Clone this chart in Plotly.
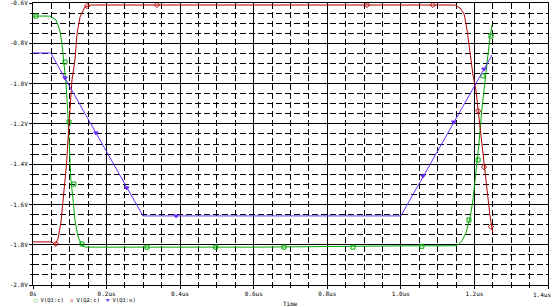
import plotly.graph_objects as go

# ---- data (time in microseconds, voltage in volts) ----
green_t = [0.0, 0.046, 0.0625, 0.073, 0.079, 0.084, 0.090, 0.095, 0.099, 0.103, 0.109, 0.114, 0.122, 0.133, 0.144,
           0.6, 1.0, 1.147, 1.155, 1.166, 1.177, 1.188, 1.196, 1.204, 1.212, 1.220, 1.229, 1.237, 1.242, 1.248]
green_v = [-0.665, -0.665, -0.684, -0.734, -0.808, -0.893, -1.007, -1.156, -1.330, -1.478, -1.578, -1.677, -1.756, -1.806, -1.812,
           -1.812, -1.806, -1.805, -1.801, -1.781, -1.742, -1.667, -1.578, -1.454, -1.305, -1.131, -0.982, -0.858, -0.774, -0.709]

red_t = [0.0, 0.052, 0.060, 0.068, 0.076, 0.084, 0.091, 0.095, 0.101, 0.106, 0.114, 0.120, 0.128, 0.141, 0.155,
         1.147, 1.161, 1.172, 1.180, 1.188, 1.196, 1.204, 1.210, 1.218, 1.226, 1.234, 1.242, 1.250]
red_v = [-1.786, -1.786, -1.801, -1.771, -1.687, -1.553, -1.404, -1.280, -1.106, -0.982, -0.883, -0.749, -0.669, -0.620, -0.610,
         -0.610, -0.625, -0.655, -0.734, -0.858, -0.957, -1.032, -1.131, -1.280, -1.404, -1.553, -1.652, -1.742]

blue_t = [0.0, 0.048, 0.299, 1.0, 1.248]
blue_v = [-0.848, -0.848, -1.657, -1.657, -0.858]

green_mk_t = [0.008, 0.087, 0.098, 0.111, 0.133, 0.310, 0.497, 0.682, 0.870, 1.057, 1.185, 1.210, 1.223, 1.245]
green_mk_v = [-0.665, -0.893, -1.191, -1.499, -1.796, -1.812, -1.812, -1.812, -1.812, -1.808, -1.677, -1.379, -0.962, -0.764]

red_mk_t = [0.0625, 0.147, 0.337, 0.908, 1.087, 1.210, 1.226, 1.245]
red_mk_v = [-1.796, -0.615, -0.610, -0.610, -0.610, -1.136, -1.414, -1.711]

blue_mk_t = [0.087, 0.171, 0.255, 0.389, 1.060, 1.144, 1.226]
blue_mk_v = [-0.972, -1.245, -1.518, -1.657, -1.459, -1.191, -0.928]

x_ticks = [0.0, 0.2, 0.4, 0.6, 0.8, 1.0, 1.2, 1.4]
x_labels = ["0s", "0.2us", "0.4us", "0.6us", "0.8us", "1.0us", "1.2us", "1.4us"]
y_ticks = [-2.0, -1.8, -1.6, -1.4, -1.2, -1.0, -0.8, -0.6]
y_labels = ["-2.0V", "-1.8V", "-1.6V", "-1.4V", "-1.2V", "-1.0V", "-0.8V", "-0.6V"]

names = ["V(Q1:c)", "V(Q2:c)", "V(Q1:e)"]
legend_glyphs = ["□", "◇", "▼"]

GREEN = "#00a800"
RED = "#b00000"
BLUE = "#6a2cff"
FONT = "DejaVu Sans Mono"

fig = go.Figure()
series = [
    (green_t, green_v, green_mk_t, green_mk_v, GREEN, "square-open", names[0]),
    (red_t, red_v, red_mk_t, red_mk_v, RED, "diamond-open", names[1]),
    (blue_t, blue_v, blue_mk_t, blue_mk_v, BLUE, "triangle-down", names[2]),
]
for t, v, mt, mv, col, sym, nm in series:
    fig.add_trace(go.Scatter(x=t, y=v, mode="lines", line=dict(color=col, width=1),
                             showlegend=False, hoverinfo="skip", name=nm))
    fig.add_trace(go.Scatter(x=mt, y=mv, mode="markers", name=nm, showlegend=False,
                             marker=dict(symbol=sym, size=4, color=col, line=dict(color=col, width=1))))

axis_common = dict(
    showline=True, linecolor="black", linewidth=1, mirror=True,
    showgrid=True, gridcolor="black", gridwidth=1,
    ticks="outside", ticklen=3, tickcolor="black", zeroline=False,
    ticklabeloverflow="allow", automargin=False,
    tickfont=dict(family=FONT, size=6, color="black"),
)

# last x label drawn as annotation so it stays inside the page
x_ticktext = x_labels[:-1] + [""]
fig.update_xaxes(range=[0, 1.4], tickmode="array", tickvals=x_ticks, ticktext=x_ticktext,
                 minor=dict(dtick=0.05, tick0=0, showgrid=True, gridcolor="black", gridwidth=1,
                            griddash="6px,3px", ticks="outside", ticklen=2, tickcolor="black"),
                 **axis_common)
fig.update_yaxes(range=[-2.0, -0.6], tickmode="array", tickvals=y_ticks, ticktext=y_labels,
                 minor=dict(dtick=0.05, tick0=0, showgrid=True, gridcolor="black", gridwidth=1,
                            griddash="6px,3px", ticks="outside", ticklen=2, tickcolor="black"),
                 **axis_common)

anns = [
    dict(text="Time", xref="paper", yref="paper", x=0.5, y=0, yshift=-18.5,
         xanchor="center", yanchor="middle", showarrow=False, borderpad=0,
         font=dict(family=FONT, size=6, color="black")),
    dict(text=x_labels[-1], xref="x", yref="paper", x=x_ticks[-1], y=0, xshift=4, yshift=-5,
         xanchor="right", yanchor="top", showarrow=False, borderpad=0,
         font=dict(family=FONT, size=6, color="black")),
]
colors = [GREEN, RED, BLUE]
leg_x = [0.0, 0.07, 0.14]
for nm, g, c, lx in zip(names, legend_glyphs, colors, leg_x):
    anns.append(dict(text=f"<span style='color:{c}'>{g}</span> {nm}", xref="paper", yref="paper",
                     x=lx, y=0, yshift=-14.5, xanchor="left", yanchor="middle", showarrow=False,
                     borderpad=0, font=dict(family=FONT, size=5.5, color="black")))

fig.update_layout(
    width=553, height=307,
    margin=dict(l=33, r=5, t=3, b=22),
    paper_bgcolor="white", plot_bgcolor="white",
    showlegend=False,
    annotations=anns,
)

fig.write_html("out.html")
